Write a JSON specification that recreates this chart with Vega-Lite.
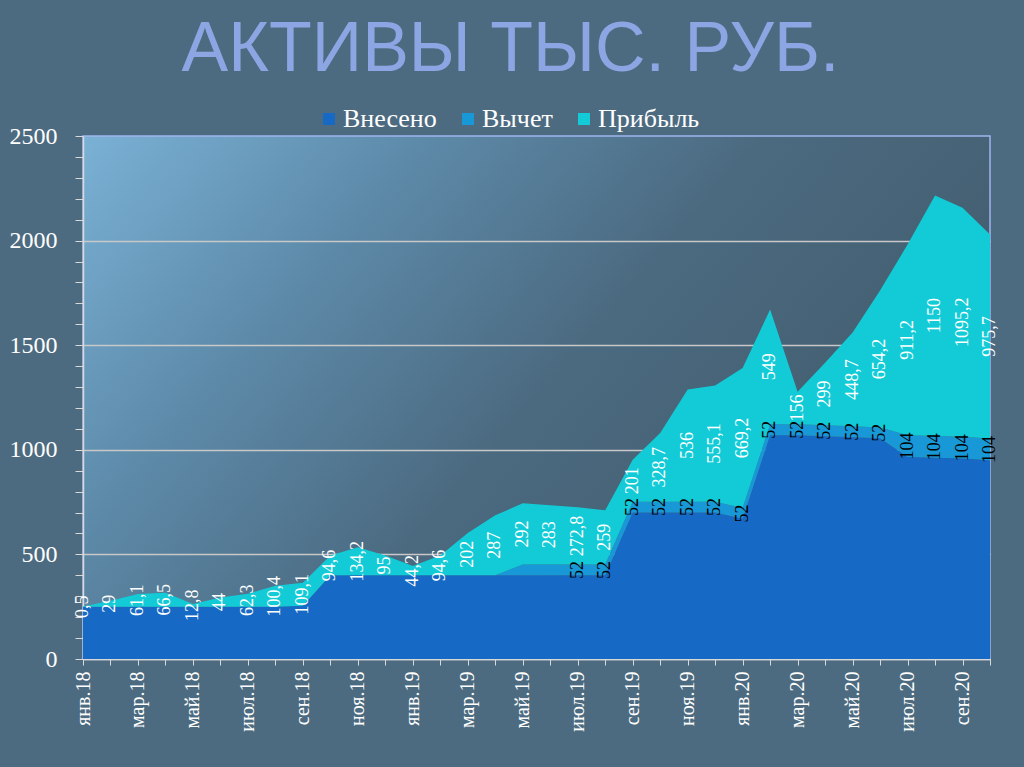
{
  "$schema": "https://vega.github.io/schema/vega-lite/v6.json",
  "width": 907,
  "height": 523,
  "autosize": {"type": "none"},
  "padding": {"left": 83, "top": 136, "right": 34, "bottom": 108},
  "background": "#4d6b80",
  "title": {
    "text": "АКТИВЫ ТЫС. РУБ.",
    "font": "Liberation Sans",
    "fontSize": 70,
    "fontWeight": "normal",
    "color": "#8ca6e4",
    "anchor": "middle",
    "frame": "group",
    "dx": -26,
    "offset": 20
  },
  "data": {
    "values": [
      {"m": "янв.18", "Внесено": 250, "Вычет": 0, "Прибыль": 0.5},
      {"m": "фев.18", "Внесено": 250, "Вычет": 0, "Прибыль": 29},
      {"m": "мар.18", "Внесено": 250, "Вычет": 0, "Прибыль": 61.1},
      {"m": "апр.18", "Внесено": 250, "Вычет": 0, "Прибыль": 66.5},
      {"m": "май.18", "Внесено": 250, "Вычет": 0, "Прибыль": 12.8},
      {"m": "июн.18", "Внесено": 250, "Вычет": 0, "Прибыль": 44},
      {"m": "июл.18", "Внесено": 250, "Вычет": 0, "Прибыль": 62.3},
      {"m": "авг.18", "Внесено": 250, "Вычет": 0, "Прибыль": 100.4},
      {"m": "сен.18", "Внесено": 255, "Вычет": 0, "Прибыль": 109.1},
      {"m": "окт.18", "Внесено": 400, "Вычет": 0, "Прибыль": 94.6},
      {"m": "ноя.18", "Внесено": 400, "Вычет": 0, "Прибыль": 134.2},
      {"m": "дек.18", "Внесено": 400, "Вычет": 0, "Прибыль": 95},
      {"m": "янв.19", "Внесено": 400, "Вычет": 0, "Прибыль": 44.2},
      {"m": "фев.19", "Внесено": 400, "Вычет": 0, "Прибыль": 94.6},
      {"m": "мар.19", "Внесено": 400, "Вычет": 0, "Прибыль": 202},
      {"m": "апр.19", "Внесено": 400, "Вычет": 0, "Прибыль": 287},
      {"m": "май.19", "Внесено": 400, "Вычет": 52, "Прибыль": 292},
      {"m": "июн.19", "Внесено": 400, "Вычет": 52, "Прибыль": 283},
      {"m": "июл.19", "Внесено": 400, "Вычет": 52, "Прибыль": 272.8},
      {"m": "авг.19", "Внесено": 400, "Вычет": 52, "Прибыль": 259},
      {"m": "сен.19", "Внесено": 700, "Вычет": 52, "Прибыль": 201},
      {"m": "окт.19", "Внесено": 700, "Вычет": 52, "Прибыль": 328.7},
      {"m": "ноя.19", "Внесено": 700, "Вычет": 52, "Прибыль": 536},
      {"m": "дек.19", "Внесено": 700, "Вычет": 52, "Прибыль": 555.1},
      {"m": "янв.20", "Внесено": 670, "Вычет": 52, "Прибыль": 669.2},
      {"m": "фев.20", "Внесено": 1070, "Вычет": 52, "Прибыль": 549},
      {"m": "мар.20", "Внесено": 1070, "Вычет": 52, "Прибыль": 156},
      {"m": "апр.20", "Внесено": 1065, "Вычет": 52, "Прибыль": 299},
      {"m": "май.20", "Внесено": 1060, "Вычет": 52, "Прибыль": 448.7},
      {"m": "июн.20", "Внесено": 1055, "Вычет": 52, "Прибыль": 654.2},
      {"m": "июл.20", "Внесено": 966, "Вычет": 104, "Прибыль": 911.2},
      {"m": "авг.20", "Внесено": 962, "Вычет": 104, "Прибыль": 1150},
      {"m": "сен.20", "Внесено": 958, "Вычет": 104, "Прибыль": 1095.2},
      {"m": "окт.20", "Внесено": 950, "Вычет": 104, "Прибыль": 975.7}
    ]
  },
  "transform": [
    {"fold": ["Внесено", "Вычет", "Прибыль"], "as": ["series", "value"]},
    {"calculate": "indexof(['Внесено','Вычет','Прибыль'], datum.series)", "as": "ord"},
    {"stack": "value", "groupby": ["m"], "sort": [{"field": "ord", "order": "ascending"}], "as": ["y0", "y1"]},
    {"calculate": "(datum.y0 + datum.y1) / 2", "as": "mid"},
    {"calculate": "replace(format(datum.value, '~f'), '.', ',')", "as": "lbl"}
  ],
  "encoding": {
    "x": {
      "field": "m",
      "type": "ordinal",
      "sort": null,
      "scale": {"type": "point", "padding": 0},
      "axis": {
        "title": null,
        "labelAngle": 270,
        "labelAlign": "right",
        "labelBaseline": "middle",
        "labelFont": "Liberation Serif",
        "labelFontSize": 20,
        "labelColor": "#ffffff",
        "labelPadding": 6,
        "tickSize": 6,
        "tickColor": "#d9d9d9",
        "domainColor": "#d9d9d9",
        "domainWidth": 1.5,
        "labelExpr": "indexof(['янв','мар','май','июл','сен','ноя'], split(datum.value, '.')[0]) >= 0 ? datum.value : ''",
        "labelOverlap": false,
        "grid": false
      }
    }
  },
  "layer": [
    {
      "mark": {"type": "area", "opacity": 1},
      "encoding": {
        "y": {
          "field": "y1",
          "type": "quantitative",
          "scale": {"domain": [0, 2500], "nice": false},
          "axis": {
            "title": null,
            "values": [0, 100, 200, 300, 400, 500, 600, 700, 800, 900, 1000, 1100, 1200, 1300, 1400, 1500, 1600, 1700, 1800, 1900, 2000, 2100, 2200, 2300, 2400, 2500],
            "format": "d",
            "labelExpr": "datum.value % 500 === 0 ? datum.label : ''",
            "labelFont": "Liberation Serif",
            "labelFontSize": 24,
            "labelColor": "#ffffff",
            "labelPadding": 18,
            "tickSize": 8,
            "tickColor": "#d9d9d9",
            "domainColor": "#d9d9d9",
            "domainWidth": 1.5,
            "labelOverlap": false,
            "labelFlush": false,
            "grid": true,
            "gridColor": "#c8c8c8",
            "gridWidth": 1.5,
            "gridOpacity": {"condition": {"test": "datum.value % 500 === 0 && datum.value < 2500", "value": 1}, "value": 0}
          }
        },
        "y2": {"field": "y0"},
        "color": {
          "field": "series",
          "type": "nominal",
          "scale": {"domain": ["Внесено", "Вычет", "Прибыль"], "range": ["#1669c4", "#1898d6", "#12cbd6"]},
          "legend": {
            "title": null,
            "orient": "none",
            "legendX": 233,
            "legendY": -30,
            "direction": "horizontal",
            "symbolType": "square",
            "symbolSize": 144,
            "symbolStrokeWidth": 0,
            "labelFont": "Liberation Serif",
            "labelFontSize": 26,
            "labelColor": "#ffffff",
            "labelOffset": 1,
            "columnPadding": 18,
            "padding": 0
          }
        }
      }
    },
    {
      "transform": [
        {"filter": "datum.series === 'Прибыль' || (datum.series === 'Вычет' && datum.value > 0 && datum.m !== 'май.19' && datum.m !== 'июн.19')"}
      ],
      "mark": {"type": "text", "angle": 270, "align": "center", "baseline": "middle", "font": "Liberation Serif", "fontSize": 18},
      "encoding": {
        "y": {
          "field": "mid",
          "type": "quantitative",
          "scale": {"domain": [0, 2500], "nice": false},
          "axis": {
            "title": null,
            "values": [0, 100, 200, 300, 400, 500, 600, 700, 800, 900, 1000, 1100, 1200, 1300, 1400, 1500, 1600, 1700, 1800, 1900, 2000, 2100, 2200, 2300, 2400, 2500],
            "format": "d",
            "labelExpr": "datum.value % 500 === 0 ? datum.label : ''",
            "labelFont": "Liberation Serif",
            "labelFontSize": 24,
            "labelColor": "#ffffff",
            "labelPadding": 18,
            "tickSize": 8,
            "tickColor": "#d9d9d9",
            "domainColor": "#d9d9d9",
            "domainWidth": 1.5,
            "labelOverlap": false,
            "labelFlush": false,
            "grid": true,
            "gridColor": "#c8c8c8",
            "gridWidth": 1.5,
            "gridOpacity": {"condition": {"test": "datum.value % 500 === 0 && datum.value < 2500", "value": 1}, "value": 0}
          }
        },
        "text": {"field": "lbl"},
        "color": {"condition": {"test": "datum.series === 'Вычет'", "value": "#000000"}, "value": "#ffffff"}
      }
    }
  ],
  "config": {
    "view": {
      "stroke": "#9fb5ee",
      "strokeWidth": 1.5,
      "fill": {
        "gradient": "linear",
        "x1": 0, "y1": 0, "x2": 1, "y2": 0.5,
        "stops": [
          {"offset": 0, "color": "#7ab1d5"},
          {"offset": 0.3, "color": "#5d8aa9"},
          {"offset": 0.6, "color": "#4b6a80"},
          {"offset": 1, "color": "#425b6c"}
        ]
      }
    }
  }
}
